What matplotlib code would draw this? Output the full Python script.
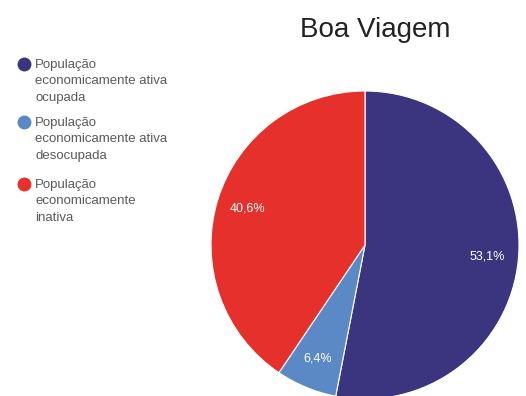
import matplotlib.pyplot as plt
from matplotlib.lines import Line2D

plt.rcParams['font.family'] = ['Liberation Sans', 'DejaVu Sans']

# population by economic activity
labels = ['População\neconomicamente ativa\nocupada',
          'População\neconomicamente ativa\ndesocupada',
          'População\neconomicamente\ninativa']
shares = [53.1, 6.4, 40.6]
colors = ['#3b3580', '#5b89c5', '#e5302c']
title = 'Boa Viagem'

W, H = 526, 396
fig = plt.figure(figsize=(W / 100, H / 100), dpi=100)

# pie axes: 308 px square, center at (365, 245)
r = 154
cx, cy = 365, 245
ax = fig.add_axes([(cx - r) / W, 1 - (cy + r) / H, 2 * r / W, 2 * r / H])

# shares add up to 100.1, so print the given numbers, not the normalised ones
pct_iter = iter(shares)
wedges, texts, autotexts = ax.pie(
    shares, colors=colors, startangle=90, counterclock=False,
    autopct=lambda p: '{:.1f}%'.format(next(pct_iter)).replace('.', ','),
    pctdistance=0.8, radius=1,
    wedgeprops=dict(edgecolor='white', linewidth=0.8),
    textprops=dict(color='white', fontsize=9))
ax.set_xlim(-1, 1)
ax.set_ylim(-1, 1)
ax.set_aspect('equal')
ax.axis('off')

fig.text(375 / W, 1 - 37 / H, title, ha='center', va='baseline',
         fontsize=20, color='#222222')

# legend drawn by hand, one dot per entry
ys = [64, 122, 184]
for lab, col, y in zip(labels, colors, ys):
    fig.add_artist(Line2D([24 / W], [1 - y / H], marker='o', markersize=9,
                          color=col, linestyle='none',
                          transform=fig.transFigure))
    fig.text(35 / W, 1 - (y - 5) / H, lab, ha='left', va='top',
             fontsize=9.5, color='#5a5a5a', linespacing=1.5)

fig.savefig('out.png', dpi=100)
